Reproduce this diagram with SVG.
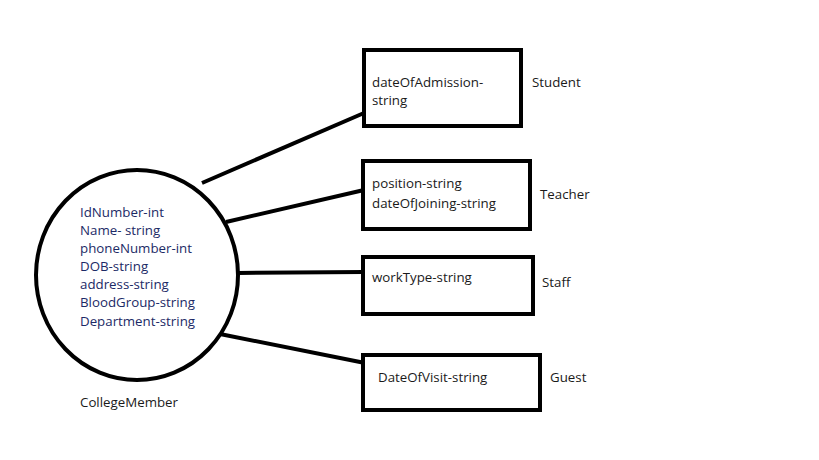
<svg xmlns="http://www.w3.org/2000/svg" width="819" height="460" viewBox="0 0 819 460">
<style>
.shape{fill:#fff;stroke:#000;stroke-width:4}
.conn{stroke:#000;stroke-width:4;fill:none}
.t{font-family:"Open Sans","Liberation Sans",sans-serif;font-size:13.3px;fill:#1a1a1a}
.m{font-family:"Open Sans","Liberation Sans",sans-serif;font-size:13.3px;fill:#1c2a66}
</style>
<rect width="819" height="460" fill="#fff"/>
<g id="connectors">
<line class="conn" x1="202" y1="183" x2="364" y2="113"/>
<line class="conn" x1="226" y1="222" x2="364" y2="190"/>
<line class="conn" x1="238" y1="273" x2="364" y2="272"/>
<line class="conn" x1="220" y1="334" x2="365" y2="363"/>
</g>
<g id="CollegeMember">
<ellipse class="shape" cx="137" cy="275" rx="101" ry="105"/>
<text class="m" x="80" y="217">IdNumber-int</text>
<text class="m" x="80" y="235">Name- string</text>
<text class="m" x="80" y="253">phoneNumber-int</text>
<text class="m" x="80" y="271">DOB-string</text>
<text class="m" x="80" y="289">address-string</text>
<text class="m" x="80" y="307">BloodGroup-string</text>
<text class="m" x="80" y="326">Department-string</text>
<text class="t" x="80" y="407">CollegeMember</text>
</g>
<g id="Student">
<rect class="shape" x="364" y="50" width="157" height="76"/>
<text class="t" x="372" y="87">dateOfAdmission-</text>
<text class="t" x="372" y="105">string</text>
<text class="t" x="532" y="87">Student</text>
</g>
<g id="Teacher">
<rect class="shape" x="363" y="161" width="167" height="68"/>
<text class="t" x="372" y="188">position-string</text>
<text class="t" x="372" y="208">dateOfJoining-string</text>
<text class="t" x="540" y="199">Teacher</text>
</g>
<g id="Staff">
<rect class="shape" x="363" y="257" width="170" height="57"/>
<text class="t" x="372" y="282">workType-string</text>
<text class="t" x="542" y="287">Staff</text>
</g>
<g id="Guest">
<rect class="shape" x="363" y="355" width="177" height="55"/>
<text class="t" x="378" y="382">DateOfVisit-string</text>
<text class="t" x="550" y="382">Guest</text>
</g>
</svg>
